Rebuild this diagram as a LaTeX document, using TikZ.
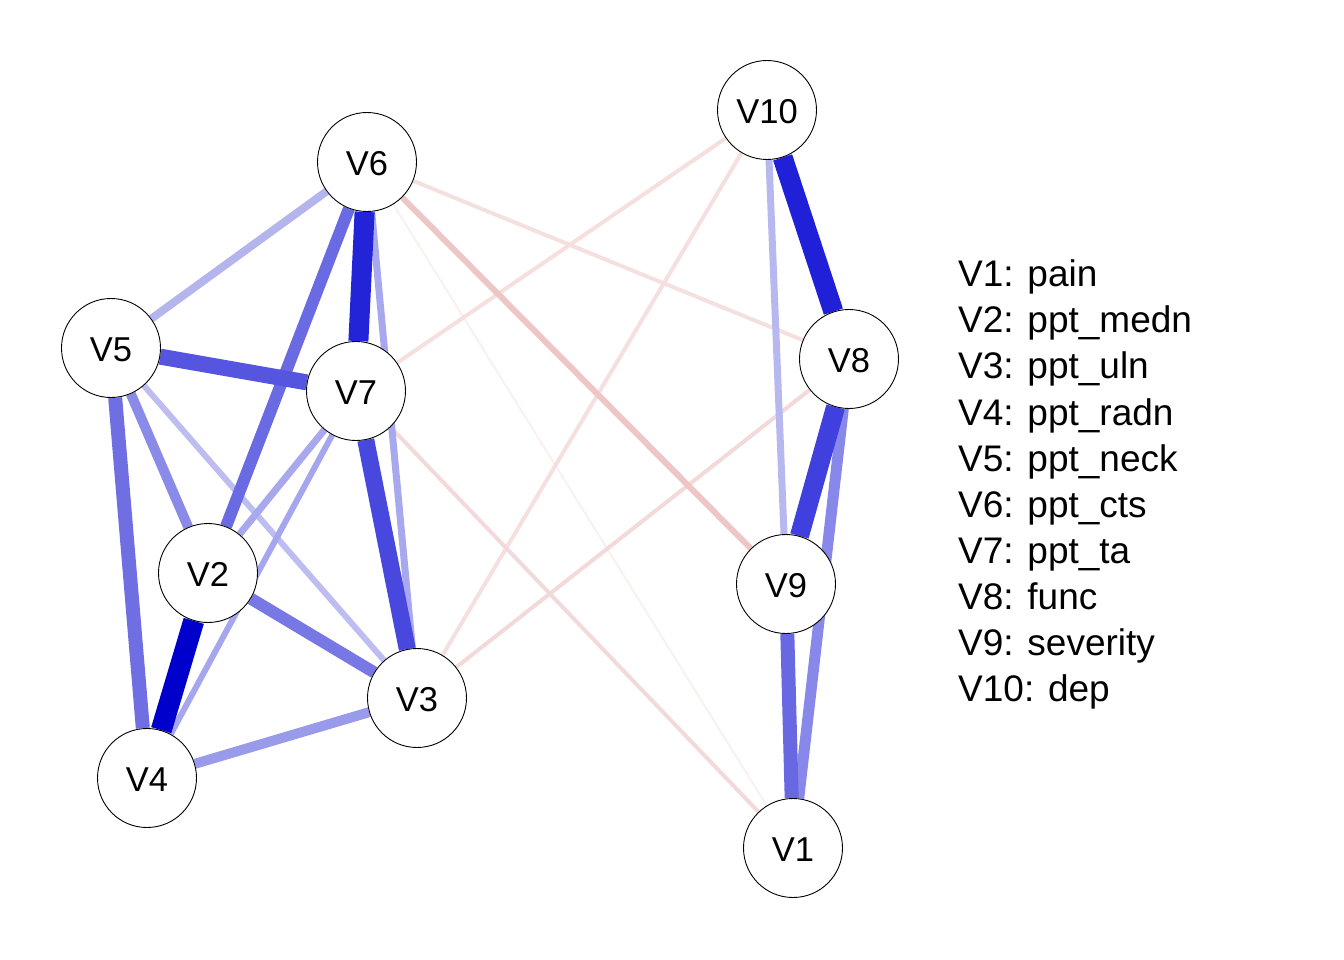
\documentclass[tikz,border=0pt]{standalone}
\usepackage{fontspec}
\setmainfont{Liberation Sans}
\usetikzlibrary{backgrounds}
\definecolor{rA}{RGB}{250,240,240}
\definecolor{rB}{RGB}{245,224,224}
\definecolor{rC}{RGB}{245,223,223}
\definecolor{rD}{RGB}{243,217,217}
\definecolor{rE}{RGB}{243,218,218}
\definecolor{rF}{RGB}{238,198,198}
\definecolor{bA}{RGB}{189,189,241}
\definecolor{bB}{RGB}{184,184,240}
\definecolor{bC}{RGB}{181,181,238}
\definecolor{bD}{RGB}{166,166,238}
\definecolor{bE}{RGB}{168,168,238}
\definecolor{bF}{RGB}{154,154,235}
\definecolor{bG}{RGB}{138,138,232}
\definecolor{bH}{RGB}{136,136,234}
\definecolor{bI}{RGB}{120,120,229}
\definecolor{bJ}{RGB}{111,111,227}
\definecolor{bK}{RGB}{106,106,226}
\definecolor{bL}{RGB}{104,104,226}
\definecolor{bM}{RGB}{85,85,224}
\definecolor{bN}{RGB}{72,72,223}
\definecolor{bO}{RGB}{64,64,222}
\definecolor{bP}{RGB}{32,32,216}
\definecolor{bQ}{RGB}{35,35,216}
\definecolor{bR}{RGB}{0,0,204}
\tikzset{
  vert/.style={circle, draw=black, line width=0.9pt, fill=white, minimum size=99pt, inner sep=0pt, font=\fontsize{34.5}{40}\selectfont, text height=27.8pt, text depth=0pt},
  leg/.style={anchor=base west, inner sep=0pt, font=\fontsize{37}{44}\selectfont},
  edge/.style={line cap=butt}
}
\begin{document}
\begin{tikzpicture}[x=1pt, y=-1pt]
\useasboundingbox (0,0) rectangle (1344,960);
\node[vert] (v1) at (793,848) {V1};
\node[vert] (v2) at (208,573) {V2};
\node[vert] (v3) at (417,698) {V3};
\node[vert] (v4) at (147,778) {V4};
\node[vert] (v5) at (111,348) {V5};
\node[vert] (v6) at (367,162) {V6};
\node[vert] (v7) at (356,391) {V7};
\node[vert] (v8) at (849,359) {V8};
\node[vert] (v9) at (786,584) {V9};
\node[vert] (v10) at (767,110) {V10};
\begin{scope}[on background layer]
\draw[edge, rA, line width=2pt] (v6) -- (v1);
\draw[edge, rB, line width=4pt] (v6) -- (v8);
\draw[edge, rC, line width=4pt] (v10) -- (v7);
\draw[edge, rC, line width=4pt] (v10) -- (v3);
\draw[edge, rD, line width=4pt] (v8) -- (v3);
\draw[edge, rE, line width=4pt] (v7) -- (v1);
\draw[edge, rF, line width=6pt] (v6) -- (v9);
\draw[edge, bA, line width=6pt] (v5) -- (v3);
\draw[edge, bB, line width=7pt] (v10) -- (v9);
\draw[edge, bC, line width=8pt] (v6) -- (v5);
\draw[edge, bD, line width=6pt] (v7) -- (v4);
\draw[edge, bE, line width=7pt] (v7) -- (v2);
\draw[edge, bE, line width=7pt] (v6) -- (v3);
\draw[edge, bF, line width=10pt] (v4) -- (v3);
\draw[edge, bG, line width=10pt] (v5) -- (v2);
\draw[edge, bH, line width=11pt] (v8) -- (v1);
\draw[edge, bI, line width=12pt] (v2) -- (v3);
\draw[edge, bJ, line width=14pt] (v5) -- (v4);
\draw[edge, bK, line width=12pt] (v6) -- (v2);
\draw[edge, bL, line width=14pt] (v9) -- (v1);
\draw[edge, bM, line width=16pt] (v5) -- (v7);
\draw[edge, bN, line width=17pt] (v7) -- (v3);
\draw[edge, bO, line width=19pt] (v8) -- (v9);
\draw[edge, bP, line width=20pt] (v10) -- (v8);
\draw[edge, bQ, line width=20pt] (v6) -- (v7);
\draw[edge, bR, line width=21pt] (v2) -- (v4);
\end{scope}
\node[leg] (l1) at (958,286.7) {V1: pain};
\node[leg] (l2) at (958,332.8) {V2: ppt\_medn};
\node[leg] (l3) at (958,378.9) {V3: ppt\_uln};
\node[leg] (l4) at (958,425.0) {V4: ppt\_radn};
\node[leg] (l5) at (958,471.1) {V5: ppt\_neck};
\node[leg] (l6) at (958,517.2) {V6: ppt\_cts};
\node[leg] (l7) at (958,563.3) {V7: ppt\_ta};
\node[leg] (l8) at (958,609.4) {V8: func};
\node[leg] (l9) at (958,655.5) {V9: severity};
\node[leg] (l10) at (958,701.6) {V10: dep};
\end{tikzpicture}
\end{document}
